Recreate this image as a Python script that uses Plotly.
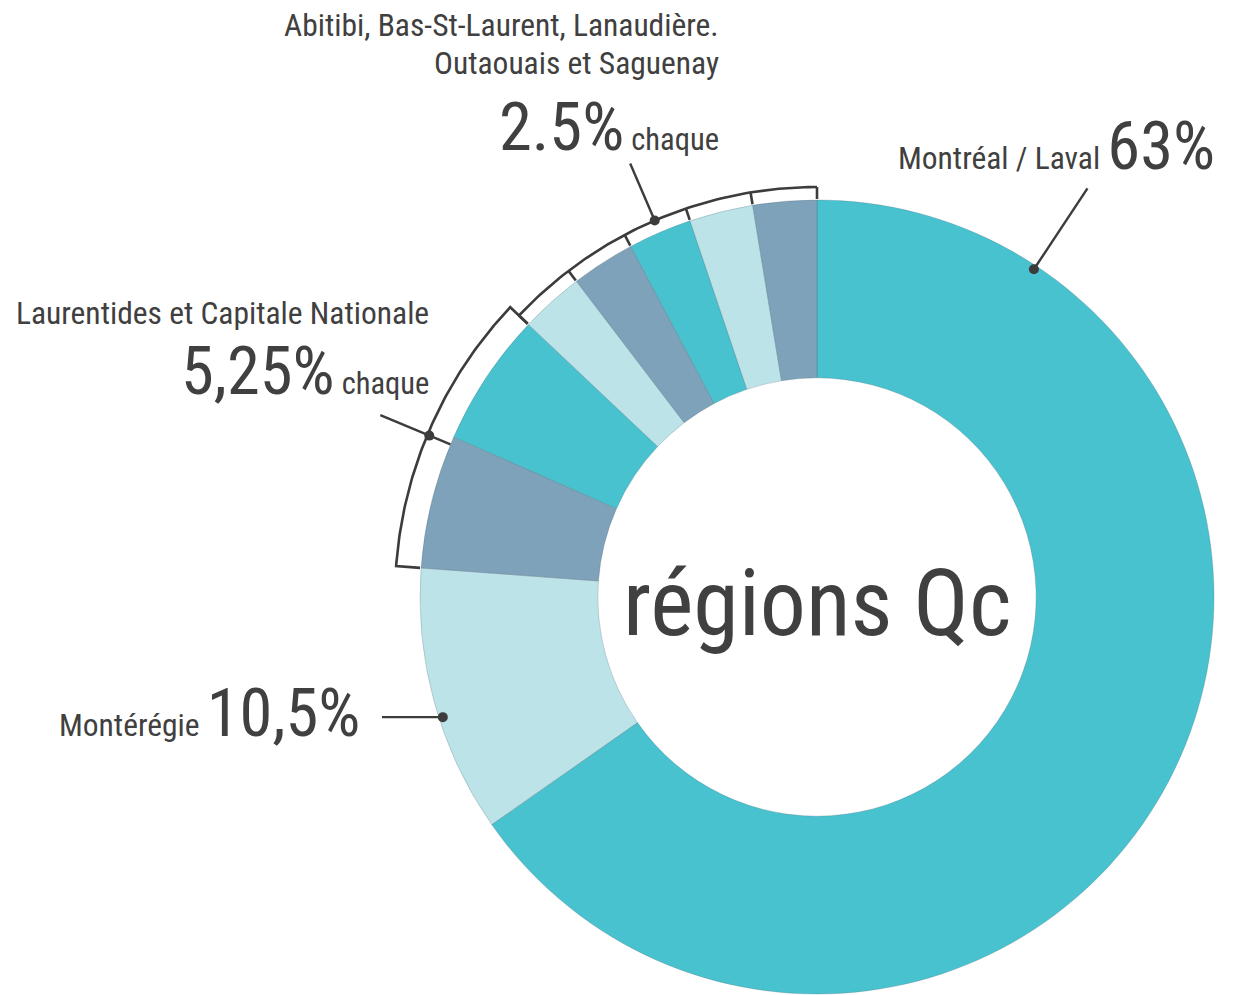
import numpy as np
import plotly.graph_objects as go

# ---------------- data ----------------
regions = ["Montréal / Laval", "Montérégie", "Laurentides", "Capitale Nationale",
           "Abitibi", "Bas-St-Laurent", "Lanaudière", "Outaouais", "Saguenay"]
shares = [63, 10.5, 5.25, 5.25, 2.5, 2.5, 2.5, 2.5, 2.5]
slice_colors = ["#49C2CF", "#BCE3E8", "#7DA2B9", "#49C2CF", "#BCE3E8",
                "#7DA2B9", "#49C2CF", "#BCE3E8", "#7DA2B9"]

label_montreal = "Montréal / Laval"
value_montreal = "63%"
label_monteregie = "Montérégie"
value_monteregie = "10,5%"
label_laurentides = "Laurentides et Capitale Nationale"
value_laurentides = "5,25%"
label_abitibi_1 = "Abitibi, Bas-St-Laurent, Lanaudière."
label_abitibi_2 = "Outaouais et Saguenay"
value_abitibi = "2.5%"
word_each = "chaque"
center_text = "régions Qc"

# ---------------- layout constants ----------------
W, H = 1239, 995
CX, CY, R = 817, 597, 397
HOLE = 0.552
FONT = "Roboto Condensed, DejaVu Sans Condensed, sans-serif"
TXT = "#404040"
LINE = "#3C3C3C"

total = sum(shares)
cum = np.concatenate([[0.0], np.cumsum(shares)]) / total * 360.0  # clockwise from top


def pt(angle, r):
    a = np.radians(angle)
    return CX + r * np.sin(a), CY - r * np.cos(a)


def arc(a0, a1, r, n=80):
    angs = np.linspace(a0, a1, n)
    xs, ys = pt(angs, r)
    return list(xs), list(ys)


fig = go.Figure()

fig.add_trace(go.Pie(
    labels=regions, values=shares, sort=False, direction="clockwise", rotation=0,
    hole=HOLE, textinfo="none", hoverinfo="label+value",
    marker=dict(colors=slice_colors, line=dict(width=0.6, color="rgba(70,90,100,0.4)")),
    domain=dict(x=[(CX - R) / W, (CX + R) / W], y=[(H - CY - R) / H, (H - CY + R) / H]),
    showlegend=False,
))

# bracket: Laurentides + Capitale Nationale
RB1, RT = 422, 398
bx, by = [], []
x0, y0 = pt(cum[2], RT); bx.append(x0); by.append(y0)
ax_, ay_ = arc(cum[2], cum[4], RB1)
bx += ax_; by += ay_
x1, y1 = pt(cum[4], RT); bx.append(x1); by.append(y1)
fig.add_trace(go.Scatter(x=bx, y=by, mode="lines", line=dict(color=LINE, width=2.6),
                         hoverinfo="skip", showlegend=False))

# bracket: the five 2.5% regions
RB2 = 410
bx, by = arc(cum[4], cum[9], RB2)
for k in range(4, 10):
    xa, ya = pt(cum[k], RT)
    xb, yb = pt(cum[k], RB2)
    bx += [None, xa, xb]; by += [None, ya, yb]
fig.add_trace(go.Scatter(x=bx, y=by, mode="lines", line=dict(color=LINE, width=2.6),
                         hoverinfo="skip", showlegend=False))

# leader lines
ANG_MTL = 33.5
ANG_MTG = 252.2
ANG_LAU = 292.6
ang_abi = (cum[6] + cum[7]) / 2

leaders = []
leaders.append((pt(ANG_MTL, 393), pt(ANG_MTL, 490)))
leaders.append((pt(ang_abi, RB2), pt(ang_abi, 472)))
leaders.append((pt(ANG_LAU, 397), pt(ANG_LAU, 473)))
mx, my = pt(ANG_MTG, 393)
leaders.append(((mx, my), (382, my)))

dots = [pt(ANG_MTL, 393), pt(ang_abi, RB2), pt(ANG_LAU, RB1 - 2), (mx, my)]

shapes = []
for (p, q) in leaders:
    shapes.append(dict(type="line", xref="x", yref="y", x0=p[0], y0=p[1], x1=q[0], y1=q[1],
                       line=dict(color=LINE, width=2.4), layer="above"))
for (dx, dy) in dots:
    shapes.append(dict(type="circle", xref="x", yref="y", x0=dx - 5, x1=dx + 5, y0=dy - 5, y1=dy + 5,
                       fillcolor=LINE, line=dict(width=0), layer="above"))

BIG = 66.5
SMALL = 31.5
EACH = 30.5


def big(s):
    return f"<span style='font-size:{BIG}px'>{s}</span>"


def mid(baseline, size):
    return baseline - 0.3465 * size


annos = [
    dict(text=label_abitibi_1, x=721, y=mid(36, SMALL), xanchor="right", size=SMALL),
    dict(text=label_abitibi_2, x=721, y=mid(74, SMALL), xanchor="right", size=SMALL),
    dict(text=big(value_abitibi) + " " + word_each, x=721, y=mid(150, BIG), xanchor="right", size=EACH),
    dict(text=label_montreal + " " + big(value_montreal), x=1217, y=mid(169, BIG), xanchor="right", size=SMALL),
    dict(text=label_laurentides, x=431, y=mid(324, SMALL), xanchor="right", size=SMALL),
    dict(text=big(value_laurentides) + " " + word_each, x=431, y=mid(394, BIG), xanchor="right", size=EACH),
    dict(text=label_monteregie + " " + big(value_monteregie), x=362, y=mid(736, BIG), xanchor="right", size=SMALL),
    dict(text=center_text, x=817, y=mid(635, 92), xanchor="center", size=92),
]
annotations = []
for a in annos:
    annotations.append(dict(text=a["text"], x=a["x"], y=a["y"], xref="x", yref="y",
                            xanchor=a["xanchor"], yanchor="middle", showarrow=False,
                            font=dict(family=FONT, size=a["size"], color=TXT)))

fig.update_layout(
    width=W, height=H, margin=dict(l=0, r=0, t=0, b=0),
    paper_bgcolor="white", plot_bgcolor="rgba(0,0,0,0)",
    xaxis=dict(range=[0, W], visible=False, fixedrange=True),
    yaxis=dict(range=[H, 0], visible=False, fixedrange=True),
    shapes=shapes, annotations=annotations, showlegend=False,
)

fig.write_html("out.html", config={"displayModeBar": False},
               post_script="document.body.style.margin='0';document.body.style.overflow='hidden';")
